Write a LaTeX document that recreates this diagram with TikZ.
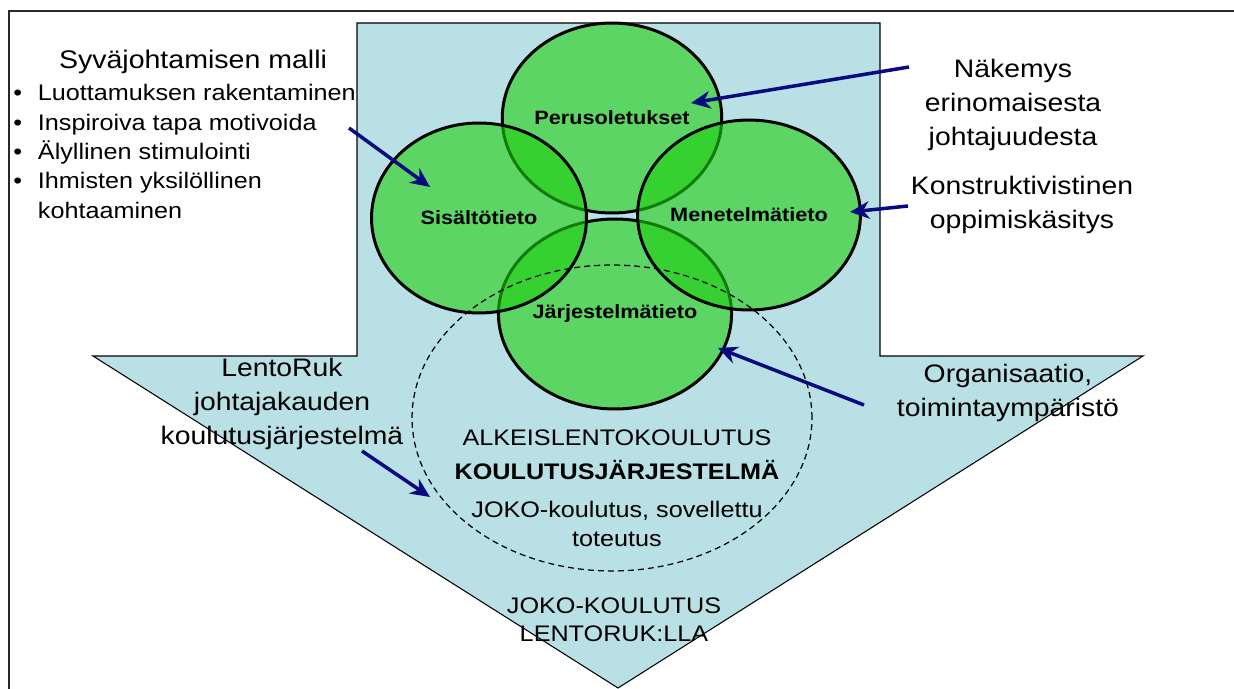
\documentclass[tikz,border=0pt]{standalone}
\usepackage{fontspec}
\setmainfont{Liberation Sans}[FakeStretch=1.12]
\usetikzlibrary{arrows.meta}
\usetikzlibrary{shapes.geometric}
\definecolor{arrowblue}{RGB}{185,224,228}
\definecolor{leafgreen}{RGB}{30,207,15}
\definecolor{pointer}{RGB}{10,10,128}
\definecolor{framegray}{RGB}{40,40,40}

\begin{document}
\begin{tikzpicture}[
     x=0.02cm, y=-0.02cm,
     know/.style={ellipse,draw,line width=1.7pt,fill=leafgreen,fill opacity=0.6,text opacity=1,
       minimum width=4.3cm,minimum height=3.8cm,inner sep=0pt,font=\fontsize{11}{13}\selectfont\bfseries},
     lbl/.style={align=center,font=\fontsize{14.4}{19.3}\selectfont},
     leader/.style={-{Stealth[length=11pt,width=10pt,inset=3.5pt]},line width=2pt,draw=pointer}
   ]
   \path[use as bounding box] (0,0) rectangle (1234,689);
   % Frame and big arrow.
   \draw[framegray,line width=1.1pt] (1234,11) -- (9,11) -- (9,689);
   \draw[fill=arrowblue,line width=0.6pt] (357,23) -- (880,23) -- (880,356) -- (1143,356)
     -- (618,688) -- (93,356) -- (357,356) -- cycle;
   % Knowledge areas.
   \node[know] (peru) at (612,118) {Perusoletukset};
   \node[know] (jarj) at (615,314) {Järjestelmätieto};
   \node[know] (sisa) at (479,218) {Sisältötieto};
   \node[know] (mene) at (749,215) {Menetelmätieto};
   \draw[dashed,line width=0.7pt,dash pattern=on 3.4pt off 2.3pt] (612,418) ellipse [x radius=4cm,y radius=3.06cm];
   % Texts.
   \node[font=\fontsize{14.5}{18}\selectfont] (model) at (193,62) {Syväjohtamisen malli};
   \node[anchor=north west,inner sep=0pt,font=\fontsize{12.8}{16.7}\selectfont] (traits) at (13,80) {%
     \begin{tabular}{@{}l@{\hspace{9pt}}l@{}}
       • & Luottamuksen rakentaminen\\
       • & Inspiroiva tapa motivoida\\
       • & Älyllinen stimulointi\\
       • & Ihmisten yksilöllinen\\
         & kohtaaminen
     \end{tabular}};
   \node[lbl] (vision) at (1013,105) {Näkemys\\erinomaisesta\\johtajuudesta};
   \node[lbl] (constr) at (1022,205) {Konstruktivistinen\\oppimiskäsitys};
   \node[lbl] (organ) at (1008,393) {Organisaatio,\\toimintaympäristö};
   \node[lbl] (lento) at (282,404) {LentoRuk\\johtajakauden\\koulutusjärjestelmä};
   \node[align=center,font=\fontsize{12.8}{16.5}\selectfont] (basic) at (617,488)
     {ALKEISLENTOKOULUTUS\\[3pt]\textbf{KOULUTUSJÄRJESTELMÄ}\\[5pt]JOKO-koulutus, sovellettu\\toteutus};
   \node[align=center,font=\fontsize{12.8}{15.9}\selectfont] (joko) at (614,620) {JOKO-KOULUTUS\\LENTORUK:LLA};
   % Pointers.
   \coordinate (modelTail) at (349,128);
   \coordinate (sisaTip) at (430,187);
   \coordinate (visionTail) at (909,67);
   \coordinate (peruTip) at (691,103);
   \coordinate (constrTail) at (908,206);
   \coordinate (meneTip) at (850,212);
   \coordinate (organTail) at (864,405);
   \coordinate (jarjTip) at (718,348);
   \coordinate (lentoTail) at (362,451);
   \coordinate (basicTip) at (430,497);
   \draw[leader] (modelTail) -- (sisaTip);
   \draw[leader] (visionTail) -- (peruTip);
   \draw[leader] (constrTail) -- (meneTip);
   \draw[leader] (organTail) -- (jarjTip);
   \draw[leader] (lentoTail) -- (basicTip);
\end{tikzpicture}
\end{document}
